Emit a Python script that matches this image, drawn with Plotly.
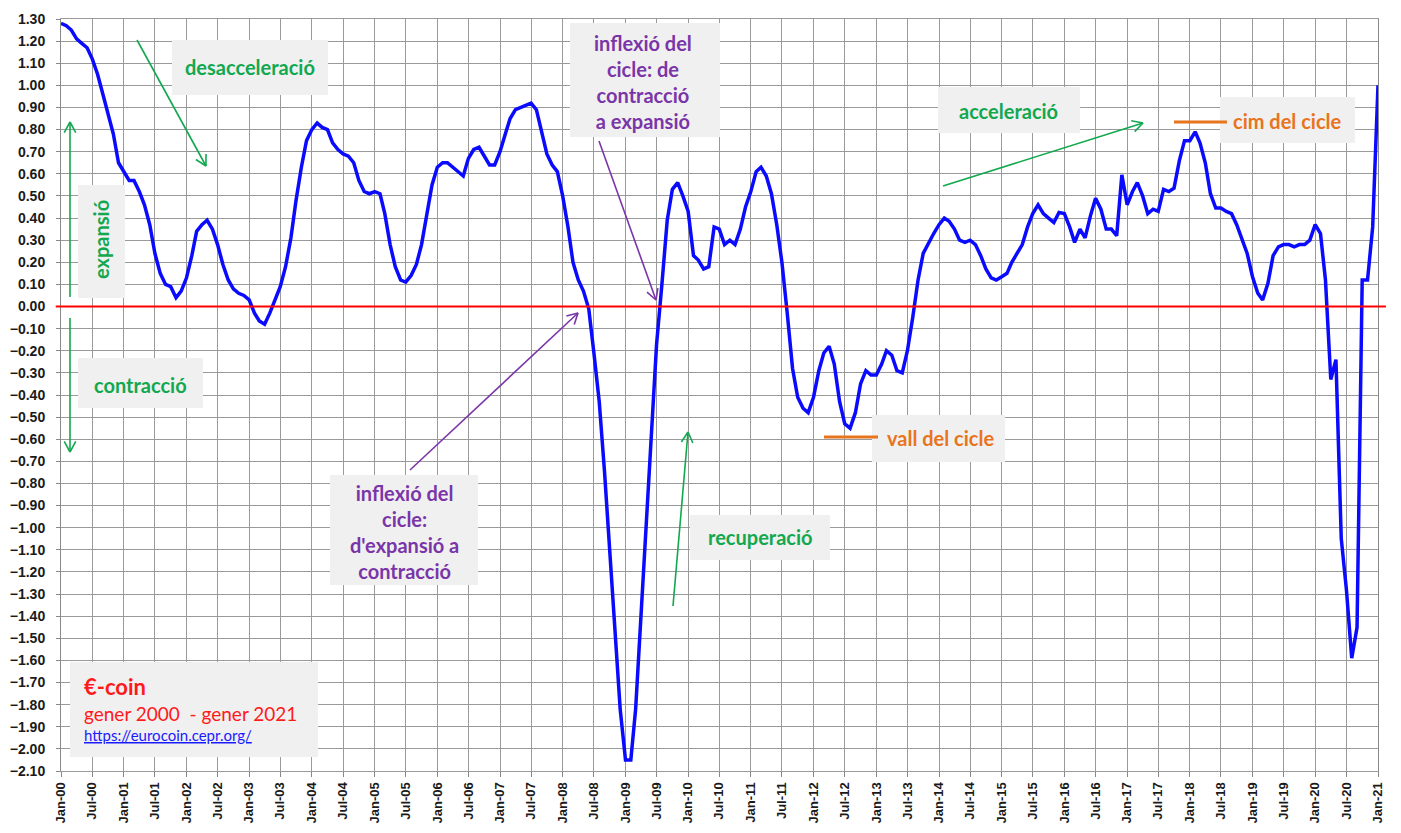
import math
import pandas as pd
import plotly.graph_objects as go

# €-coin monthly values, Jan 2000 .. Jan 2021
values = [
    1.28, 1.27, 1.25, 1.21, 1.19, 1.17, 1.12, 1.05, 0.96, 0.87, 0.78, 0.65,
    0.61, 0.57, 0.57, 0.52, 0.46, 0.37, 0.24, 0.15, 0.10, 0.09, 0.04, 0.07,
    0.13, 0.23, 0.34, 0.37, 0.39, 0.35, 0.28, 0.19, 0.12, 0.08, 0.06, 0.05,
    0.03, -0.03, -0.065, -0.08, -0.03, 0.03, 0.09, 0.18, 0.31, 0.48, 0.63, 0.75,
    0.80, 0.83, 0.81, 0.80, 0.74, 0.71, 0.69, 0.68, 0.65, 0.57, 0.52, 0.51,
    0.52, 0.51, 0.42, 0.28, 0.18, 0.12, 0.11, 0.14, 0.19, 0.28, 0.42, 0.55,
    0.63, 0.65, 0.65, 0.63, 0.61, 0.59, 0.67, 0.71, 0.72, 0.68, 0.64, 0.64,
    0.70, 0.78, 0.85, 0.89, 0.90, 0.91, 0.92, 0.89, 0.79, 0.69, 0.64, 0.61,
    0.50, 0.36, 0.20, 0.12, 0.07, -0.01, -0.21, -0.43, -0.75, -1.10, -1.46, -1.82,
    -2.05, -2.05, -1.82, -1.41, -0.97, -0.55, -0.17, 0.10, 0.39, 0.53, 0.56, 0.50,
    0.43, 0.23, 0.21, 0.17, 0.18, 0.36, 0.35, 0.28, 0.30, 0.28, 0.35, 0.45,
    0.52, 0.61, 0.63, 0.59, 0.51, 0.37, 0.20, -0.03, -0.28, -0.41, -0.46, -0.48,
    -0.41, -0.29, -0.21, -0.18, -0.26, -0.43, -0.53, -0.55, -0.48, -0.35, -0.29, -0.31,
    -0.31, -0.26, -0.20, -0.22, -0.29, -0.30, -0.20, -0.05, 0.12, 0.24, 0.29, 0.33,
    0.37, 0.40, 0.385, 0.35, 0.30, 0.29, 0.30, 0.28, 0.23, 0.17, 0.13, 0.12,
    0.135, 0.15, 0.20, 0.24, 0.28, 0.36, 0.42, 0.46, 0.42, 0.40, 0.38, 0.425,
    0.42, 0.36, 0.29, 0.35, 0.31, 0.41, 0.49, 0.44, 0.35, 0.35, 0.32, 0.595,
    0.46, 0.52, 0.56, 0.50, 0.42, 0.44, 0.43, 0.53, 0.52, 0.535, 0.66, 0.75,
    0.75, 0.79, 0.74, 0.65, 0.51, 0.445, 0.445, 0.43, 0.42, 0.37, 0.30, 0.24,
    0.135, 0.06, 0.03, 0.105, 0.23, 0.27, 0.28, 0.28, 0.27, 0.28, 0.28, 0.30,
    0.37, 0.33, 0.12, -0.33, -0.24, -1.05, -1.28, -1.59, -1.45, 0.12, 0.12, 0.36, 1.00,
]
months = pd.date_range("2000-01-01", periods=len(values), freq="MS")

GREEN = "#12a84f"
PURPLE = "#7a35a8"
ORANGE = "#e8741e"
RED = "#ff1a1a"
FONT = "Lato"

# the page body has an 8px margin, so the figure is drawn 8px in from the corner
OFF = 8
W, H = 1401 - OFF, 833 - OFF
# plot area in window pixels (for placing the callouts)
X0, X1, Y0, Y1 = 61, 1378, 19, 771


def px(x, y):
    return (x - X0) / (X1 - X0), (Y1 - y) / (Y1 - Y0)


shapes = []
annotations = []


def box(x0, y0, x1, y1):
    a, b = px(x0, y1)
    c, d = px(x1, y0)
    shapes.append(dict(type="rect", xref="paper", yref="paper", x0=a, y0=b, x1=c, y1=d,
                       fillcolor="#f0f0f0", line=dict(width=0), layer="above"))


def label(x, y, text, color, size=20, angle=0, anchor="center", bold=True):
    a, b = px(x, y)
    t = "<b>%s</b>" % text if bold else text
    annotations.append(dict(xref="paper", yref="paper", x=a, y=b, text=t, showarrow=False,
                            xanchor=anchor, yanchor="middle", textangle=angle,
                            font=dict(family=FONT, size=size, color=color)))


def seg(x0, y0, x1, y1, color, width=2):
    a, b = px(x0, y0)
    c, d = px(x1, y1)
    shapes.append(dict(type="line", xref="paper", yref="paper", x0=a, y0=b, x1=c, y1=d,
                       line=dict(color=color, width=width), layer="above"))


def arrow(x0, y0, x1, y1, color, width=1.6, head=12):
    seg(x0, y0, x1, y1, color, width)
    ang = math.atan2(y1 - y0, x1 - x0)
    for s in (-1, 1):
        wx = x1 - head * math.cos(ang + s * 0.5)
        wy = y1 - head * math.sin(ang + s * 0.5)
        seg(wx, wy, x1, y1, color, width)


# callouts
box(172, 40, 328, 95)
label(250, 67, "desacceleració", GREEN)
arrow(137, 40, 206, 166, GREEN)

box(78, 185, 125, 298)
label(101, 240, "expansió", GREEN, angle=-90)
arrow(70, 297, 70, 122, GREEN)
arrow(70, 318, 70, 452, GREEN)

box(78, 358, 203, 408)
label(140, 385, "contracció", GREEN)

box(570, 23, 720, 137)
label(643, 82, "inflexió del<br>cicle: de<br>contracció<br>a expansió", PURPLE)
arrow(599, 141, 656, 300, PURPLE)

box(330, 475, 478, 585)
label(404, 532, "inflexió del<br>cicle:<br>d'expansió a<br>contracció", PURPLE)
arrow(410, 470, 578, 313, PURPLE)

box(690, 515, 830, 560)
label(760, 537, "recuperació", GREEN)
arrow(673, 606, 688, 432, GREEN)

box(938, 87, 1080, 133)
label(1009, 111, "acceleració", GREEN)
arrow(943, 186, 1143, 123, GREEN)

box(1220, 97, 1355, 143)
seg(1174, 122, 1227, 122, ORANGE, 3)
label(1287, 121, "cim del cicle", ORANGE)

box(872, 415, 1005, 462)
seg(824, 437, 878, 437, ORANGE, 3)
label(940, 438, "vall del cicle", ORANGE)

box(70, 662, 318, 757)
label(82, 686, "€-coin", RED, size=22, anchor="left")
label(82, 713, "gener 2000\u00a0 - gener 2021", RED, size=19, anchor="left", bold=False)
label(82, 735, "<u>https://eurocoin.cepr.org/</u>", "#1a1aff", size=15, anchor="left", bold=False)

# zero line
shapes.append(dict(type="line", xref="paper", yref="y", x0=-0.004, x1=1.006, y0=0, y1=0,
                   line=dict(color="#ff0000", width=2), layer="above"))

line = go.Scatter(
    x=months,
    y=values,
    mode="lines",
    line=dict(color="#0a0aff", width=3.5),
    name="€-coin",
)

layout = go.Layout(
    width=W,
    height=H,
    margin=dict(l=X0 - OFF, r=1401 - X1, t=Y0 - OFF, b=833 - Y1),
    plot_bgcolor="white",
    paper_bgcolor="white",
    showlegend=False,
    xaxis=dict(
        type="date",
        range=["2000-01-01", "2021-01-01"],
        tick0="2000-01-01",
        dtick="M6",
        tickformat="%b-%y",
        tickangle=-90,
        showgrid=True,
        gridcolor="#9a9a9a",
        gridwidth=1.4,
        showline=True,
        linecolor="#9a9a9a",
        mirror=True,
        ticks="outside",
        ticklen=5,
        tickcolor="#888888",
        tickfont=dict(family="Liberation Sans", size=13, color="#1a1a1a", weight="bold"),
        zeroline=False,
        automargin=False,
    ),
    yaxis=dict(
        range=[-2.1, 1.3],
        tick0=0,
        dtick=0.1,
        tickformat=".2f",
        showgrid=True,
        gridcolor="#9a9a9a",
        gridwidth=1.4,
        showline=True,
        linecolor="#888888",
        mirror=True,
        ticks="outside",
        ticklen=4,
        tickcolor="#888888",
        tickfont=dict(family="Liberation Sans", size=14, color="#1a1a1a", weight="bold"),
        ticklabelstandoff=8,
        zeroline=False,
        automargin=False,
    ),
    shapes=shapes,
    annotations=annotations,
)

fig = go.Figure(data=[line], layout=layout)
fig.write_html("out.html")
